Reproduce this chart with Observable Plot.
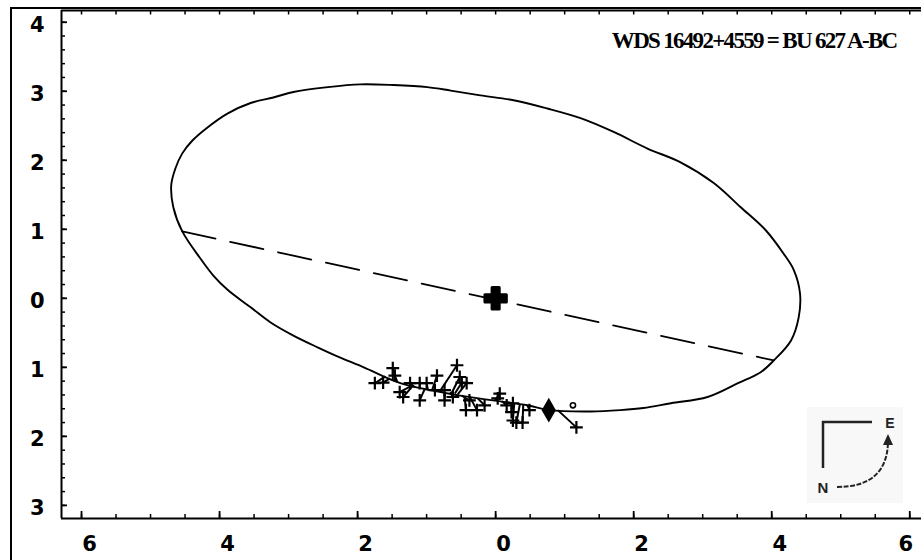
<!DOCTYPE html>
<html><head><meta charset="utf-8">
<script src="https://cdn.jsdelivr.net/npm/d3@7"></script>
<script src="https://cdn.jsdelivr.net/npm/@observablehq/plot@0.6"></script>
<style>
html,body{margin:0;background:#fff;overflow:hidden;}
#wrap{position:relative;width:921px;height:560px;overflow:hidden;background:#fff;}
#wrap > svg.plot{position:absolute;left:0;top:0;}
#outer{position:absolute;left:10px;top:7px;width:930px;height:551px;border-left:2.5px solid #000;border-top:2px solid #000;border-bottom:1px solid #c8c8c8;pointer-events:none;}
#compass{position:absolute;left:0;top:0;pointer-events:none;}
#mask{position:absolute;left:913px;top:521px;width:8px;height:36px;background:#fff;z-index:10;}
</style></head>
<body>
<div id="wrap">
<div id="outer"></div>
<svg id="compass" width="921" height="560">
  <rect x="807" y="407" width="96" height="96" fill="#f8f8f8"/>
  <path d="M823,468 V422 H872" fill="none" stroke="#222" stroke-width="2.5"/>
  <text x="890" y="428" font-family="Liberation Sans" font-weight="bold" font-size="14" text-anchor="middle" fill="#222">E</text>
  <text x="823" y="493" font-family="Liberation Sans" font-weight="bold" font-size="15" text-anchor="middle" fill="#222">N</text>
  <path d="M837,487 Q887,487 888,442" fill="none" stroke="#222" stroke-width="2" stroke-dasharray="5,1.5"/>
  <path d="M883,445 L888,434 L893,445 Z" fill="#222"/>
</svg>
<div id="mask"></div>
</div>
<script>
const title = "WDS 16492+4559 = BU 627 A-BC";

// apparent orbit (arcsec)
const orbitX = [-4.70,-4.67,-4.54,-4.28,-4.09,-3.88,-3.55,-3.26,-2.93,-2.58,-2.25,-1.91,-1.38,-0.51,0.46,0.77,1.38,1.81,2.14,2.54,3.07,3.51,3.84,4.03,4.28,4.39,4.41,4.32,4.17,3.91,3.55,3.16,2.68,2.20,1.71,1.23,0.75,0.26,-0.22,-0.65,-0.99,-1.48,-1.96,-2.43,-2.93,-3.22,-3.55,-3.88,-4.17,-4.39,-4.54,-4.64];
const orbitY = [1.64,1.32,0.97,0.58,0.33,0.12,-0.13,-0.35,-0.54,-0.71,-0.86,-1.00,-1.23,-1.41,-1.55,-1.62,-1.64,-1.62,-1.59,-1.52,-1.43,-1.23,-1.07,-0.90,-0.61,-0.28,0.07,0.41,0.65,0.99,1.32,1.67,1.97,2.17,2.41,2.61,2.75,2.87,2.94,3.01,3.06,3.09,3.10,3.06,2.99,2.91,2.83,2.68,2.48,2.29,2.10,1.88];

// line of nodes
const nodesX = [-4.54, 4.03];
const nodesY = [0.97, -0.90];

// observations and their computed positions (O-C)
const obsX = [-1.75,-1.63,-1.49,-1.46,-1.39,-1.34,-1.24,-1.10,-1.10,-1.00,-0.85,-0.88,-0.74,-0.74,-0.62,-0.56,-0.52,-0.49,-0.42,-0.38,-0.43,-0.27,-0.16,0.06,0.03,0.16,0.25,0.23,0.25,0.30,0.39,0.49,1.17];
const obsY = [-1.23,-1.22,-1.01,-1.12,-1.36,-1.43,-1.23,-1.23,-1.48,-1.23,-1.12,-1.33,-1.33,-1.48,-1.43,-0.97,-1.14,-1.22,-1.23,-1.48,-1.62,-1.62,-1.55,-1.38,-1.45,-1.55,-1.52,-1.65,-1.77,-1.80,-1.80,-1.62,-1.87];
const calcX = [-1.60,-1.53,-1.49,-1.42,-1.24,-1.21,-1.17,-1.10,-1.03,-0.98,-0.92,-0.88,-0.81,-0.74,-0.66,-0.81,-0.64,-0.59,-0.55,-0.49,-0.45,-0.38,-0.26,-0.01,0.01,0.09,0.17,0.23,0.27,0.35,0.40,0.46,0.90];
const calcY = [-1.13,-1.16,-1.19,-1.22,-1.28,-1.28,-1.29,-1.30,-1.32,-1.33,-1.33,-1.33,-1.35,-1.36,-1.36,-1.35,-1.38,-1.38,-1.39,-1.41,-1.42,-1.42,-1.45,-1.48,-1.48,-1.49,-1.51,-1.52,-1.52,-1.54,-1.54,-1.55,-1.62];

const currentX = [0.77], currentY = [-1.62];
const epochX = [1.12], epochY = [-1.55];
const primaryX = [0], primaryY = [0];

const xDomain = [-6.29, 6.17];
const yDomain = [-3.19, 4.17];
const xLabelTicks = [-6, -4, -2, 0, 2, 4, 6];
const yLabelTicks = [-3, -2, -1, 0, 1, 2, 3, 4];
const xMinorTicks = d3.range(-6, 6.001, 0.5);
const yMinorTicks = d3.range(-3, 4.001, 0.2).map(d => Math.round(d * 10) / 10);

const W = 921, H = 560, mL = 61, mR = 0, mT = 10, mB = 42;
const fw = W - mL - mR, fh = H - mT - mB;
const labelFont = {fontFamily: "DejaVu Sans", fontWeight: "bold", fontSize: 21, fill: "#000"};

const chart = Plot.plot({
  width: W, height: H,
  marginLeft: mL, marginRight: mR, marginTop: mT, marginBottom: mB,
  style: {background: "transparent", fontFamily: "DejaVu Sans", overflow: "hidden"},
  x: {domain: xDomain, axis: null},
  y: {domain: yDomain, axis: null},
  marks: [
    // frame lines
    Plot.ruleX([xDomain[0]], {stroke: "#000", strokeWidth: 2}),
    Plot.ruleY([yDomain[0]], {stroke: "#000", strokeWidth: 2}),
    Plot.ruleY([yDomain[1]], {stroke: "#000", strokeWidth: 2}),
    // inward ticks
    Plot.ruleY(yMinorTicks, {insetRight: fw - 4, stroke: "#000", strokeWidth: 1.5}),
    Plot.ruleY(yLabelTicks, {insetRight: fw - 6, stroke: "#000", strokeWidth: 1.8}),
    Plot.ruleX(xMinorTicks, {insetTop: fh - 4, stroke: "#000", strokeWidth: 1.5}),
    Plot.ruleX(xLabelTicks, {insetTop: fh - 7, stroke: "#000", strokeWidth: 1.8}),
    Plot.ruleX(xMinorTicks, {insetBottom: fh - 4.5, stroke: "#000", strokeWidth: 1.5}),
    // tick labels
    Plot.text(yLabelTicks, {y: d => d, frameAnchor: "left", dx: -17, dy: 3, textAnchor: "end", text: d => Math.abs(d), ...labelFont}),
    Plot.text(xLabelTicks.filter(d => d < 6), {x: d => d, frameAnchor: "bottom", dx: 8, dy: 18, lineAnchor: "top", text: d => Math.abs(d), ...labelFont}),
    Plot.text(xLabelTicks.filter(d => d >= 6), {x: d => d, frameAnchor: "bottom", dx: -4, dy: 18, lineAnchor: "top", text: d => Math.abs(d), ...labelFont}),
    // orbit and line of nodes
    Plot.line(orbitX, {x: orbitX, y: orbitY, curve: "catmull-rom-closed", stroke: "#000", strokeWidth: 1.9}),
    Plot.line(nodesX, {x: nodesX, y: nodesY, stroke: "#000", strokeWidth: 1.8, strokeDasharray: "34,15"}),
    // O-C lines and observations
    Plot.link(obsX, {x1: obsX, y1: obsY, x2: calcX, y2: calcY, stroke: "#000", strokeWidth: 2}),
    Plot.dot(obsX, {x: obsX, y: obsY, symbol: "plus", r: 4.2, stroke: "#000", strokeWidth: 2.2}),
    Plot.dot(currentX, {x: currentX, y: currentY, symbol: "diamond", r: 7.5, fill: "#000"}),
    Plot.dot(epochX, {x: epochX, y: epochY, r: 2.6, stroke: "#000", strokeWidth: 1.6, fill: "none"}),
    Plot.dot(primaryX, {x: primaryX, y: primaryY, symbol: "cross", r: 9, fill: "#000", stroke: "#000", strokeWidth: 3, strokeLinejoin: "round"}),
    // title
    Plot.text([title], {frameAnchor: "top-right", dx: -25, dy: 30, text: d => d, textAnchor: "end", lineAnchor: "middle", fontFamily: "Liberation Serif", fontWeight: "bold", fontSize: 23, fill: "#000"})
  ]
});
chart.querySelectorAll("text").forEach(t => { if (t.textContent === title) t.style.letterSpacing = "-1.7px"; });
document.getElementById("wrap").insertBefore(chart, document.getElementById("outer"));
</script>
</body></html>
